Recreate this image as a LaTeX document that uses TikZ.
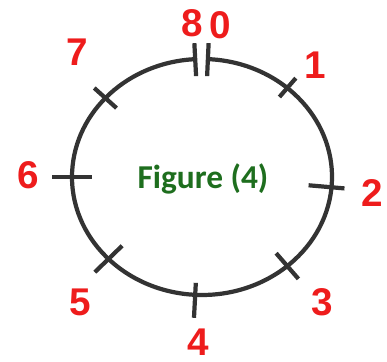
\documentclass[tikz,border=0pt]{standalone}
\usepackage{fontspec}
\setmainfont{Liberation Sans}
\newfontfamily\figfont{Carlito}
\usetikzlibrary{calc}
\definecolor{ringgray}{HTML}{333333}
\definecolor{numred}{HTML}{EE1C1C}
\definecolor{figgreen}{HTML}{1E6E1E}

\begin{document}
\begin{tikzpicture}[
    x=0.02cm, y=0.02cm,
    ring/.style={draw=ringgray, line width=2.4pt},
    tickmark/.style={draw=ringgray, line width=2.4pt},
    num/.style={text=numred, font=\fontsize{22}{22}\selectfont\bfseries, inner sep=0pt},
]
\useasboundingbox (0,0) rectangle (387,362);
\coordinate (c) at (202,185);

% Ring, open at the top
\draw[ring] ($(c)+(87.4:130 and 118)$) arc[start angle=87.4, end angle=-267, x radius=130, y radius=118];

% Tick marks
\draw[tickmark] ($(c)+(87.4:113 and 101)$) -- ($(c)+(87.4:146 and 134)$);
\draw[tickmark] ($(c)+(93:113 and 101)$) -- ($(c)+(93:146 and 134)$);
\draw[tickmark] ($(c)+(49:118 and 106)$) -- ($(c)+(49:143 and 131)$);
\draw[tickmark] ($(c)+(-5:107 and 95)$) -- ($(c)+(-5:143 and 131)$);
\draw[tickmark] ($(c)+(-49:113 and 101)$) -- ($(c)+(-49:147 and 135)$);
\draw[tickmark] ($(c)+(-93:118 and 106)$) -- ($(c)+(-93:153 and 141)$);
\draw[tickmark] ($(c)+(-136:111 and 99)$) -- ($(c)+(-136:149 and 137)$);
\draw[tickmark] ($(c)+(180:110 and 98)$) -- ($(c)+(180:150 and 138)$);
\draw[tickmark] ($(c)+(138:115 and 103)$) -- ($(c)+(138:145 and 133)$);

% Labels
\node[num] (n8) at (192,339) {8};
\node[num] (n0) at (220,337) {0};
\node[num] (n1) at (315,297) {1};
\node[num] (n2) at (372,169) {2};
\node[num] (n3) at (322,60) {3};
\node[num] (n4) at (198,20) {4};
\node[num] (n5) at (80,60) {5};
\node[num] (n6) at (28,187) {6};
\node[num] (n7) at (77,310) {7};

\node[text=figgreen, font=\figfont\fontsize{19}{19}\selectfont\bfseries] (title) at (203,183) {Figure (4)};
\end{tikzpicture}
\end{document}
